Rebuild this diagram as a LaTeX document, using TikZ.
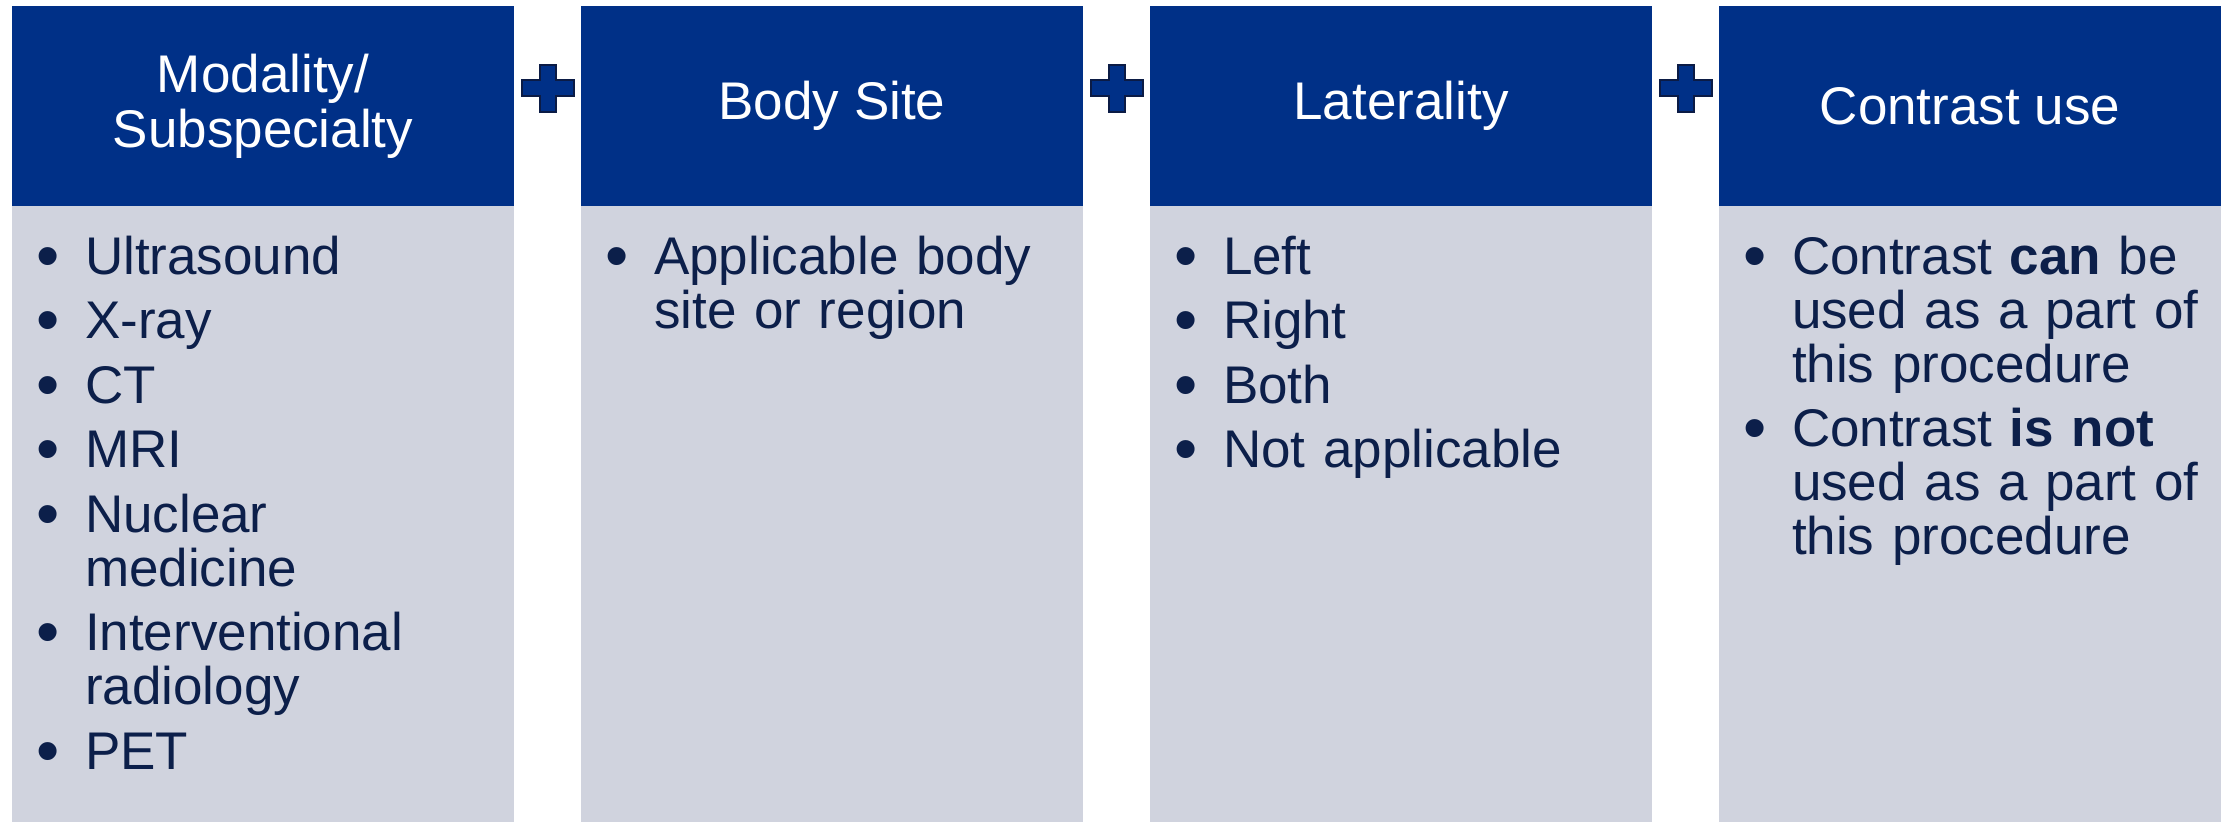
\documentclass[tikz,border=0pt]{standalone}
\usepackage{fontspec}
\setmainfont{Liberation Sans}
\usetikzlibrary{positioning,calc}

\definecolor{headblue}{HTML}{003087}
\definecolor{bodygray}{HTML}{D0D3DE}
\definecolor{inkblue}{HTML}{0C1F4A}
\definecolor{plusedge}{HTML}{0B1B45}

% one bullet paragraph, hanging indent under the text
\newcommand\bitem[1]{\par\noindent\hangindent=49pt\hangafter=1\makebox[49pt][l]{\raisebox{-4pt}{\scalebox{1.25}{\textbullet}}}#1\par\vspace{10.5pt}}

\begin{document}
\begin{tikzpicture}[
    x=1pt, y=-1pt,
    every node/.style={inner sep=0pt, outer sep=0pt},
    header/.style={rectangle, fill=headblue, text=white, minimum width=502pt, minimum height=200pt, align=center, font=\fontsize{53}{55}\selectfont},
    panel/.style={rectangle, fill=bodygray, minimum width=502pt, minimum height=616pt},
    bullets/.style={anchor=base west, text width=470pt, text=inkblue, font=\fontsize{53}{54}\selectfont},
    plussign/.style={fill=headblue, draw=plusedge, line width=2pt, line join=miter}
    ]
    \useasboundingbox (0,0) rectangle (2233,822);

    % column heads
    \node[header, anchor=north west] (modality) at (12,6) {Modality/\\Subspecialty};
    \node[header, right=67pt of modality] (site) {Body Site};
    \node[header, right=67pt of site] (laterality) {Laterality};
    \node[header, right=67pt of laterality] (contrast) {Contrast use};

    % column bodies
    \node[panel, below=0pt of modality] (modalitylist) {};
    \node[panel, below=0pt of site] (sitelist) {};
    \node[panel, below=0pt of laterality] (lateralitylist) {};
    \node[panel, below=0pt of contrast] (contrastlist) {};

    \node[bullets] (modalitytext) at ($(modalitylist.north west)+(24,14)$) {%
      \bitem{Ultrasound}\bitem{X-ray}\bitem{CT}\bitem{MRI}%
      \bitem{Nuclear\newline medicine}\bitem{Interventional\newline radiology}\bitem{PET}};
    \node[bullets] (sitetext) at ($(sitelist.north west)+(24,14)$) {%
      \bitem{Applicable body\newline site or region}};
    \node[bullets] (lateralitytext) at ($(lateralitylist.north west)+(24,14)$) {%
      \bitem{Left}\bitem{Right}\bitem{Both}\bitem{Not applicable}};
    \node[bullets] (contrasttext) at ($(contrastlist.north west)+(24,14)$) {%
      \bitem{Contrast \textbf{can} be\newline used as a part of\newline this procedure}%
      \bitem{Contrast \textbf{is not}\newline used as a part of\newline this procedure}};

    % plus signs between the heads
    \foreach \a/\b in {modality/site, site/laterality, laterality/contrast}
      \draw[plussign] ($(\a.north east)!0.5!(\b.north west)+(0,82)$) ++(-8,-23.5) -- ++(16,0) -- ++(0,15.5) -- ++(18,0) -- ++(0,16) -- ++(-18,0) -- ++(0,15.5) -- ++(-16,0) -- ++(0,-15.5) -- ++(-18,0) -- ++(0,-16) -- ++(18,0) -- cycle;
  \end{tikzpicture}
\end{document}
